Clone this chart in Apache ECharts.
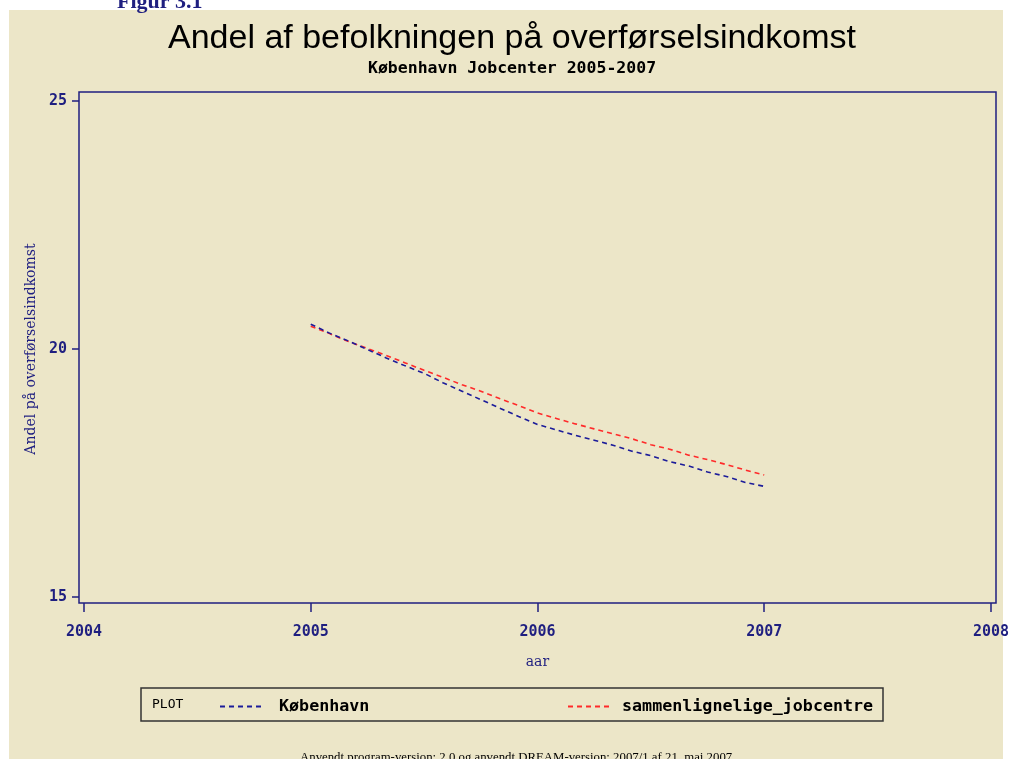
<!DOCTYPE html>
<html>
<head>
<meta charset="utf-8">
<script src="https://cdn.jsdelivr.net/npm/echarts@6/dist/echarts.min.js"></script>
<style>html,body{margin:0;padding:0;background:#fff;}#c{width:1012px;height:759px;}</style>
</head>
<body>
<div id="c"></div>
<script>
// Decimal years (monthly observations Jan 2005 - Jan 2007)
const xYears = [2005.000, 2005.083, 2005.167, 2005.250, 2005.333, 2005.417, 2005.500, 2005.583, 2005.667, 2005.750, 2005.833, 2005.917,
                2006.000, 2006.083, 2006.167, 2006.250, 2006.333, 2006.417, 2006.500, 2006.583, 2006.667, 2006.750, 2006.833, 2006.917, 2007.000];
const kobenhavn = [20.50, 20.32, 20.16, 19.99, 19.82, 19.66, 19.51, 19.32, 19.15, 18.98, 18.81, 18.64,
                   18.48, 18.37, 18.26, 18.16, 18.06, 17.94, 17.85, 17.73, 17.64, 17.52, 17.43, 17.31, 17.23];
const sammenlignelige = [20.46, 20.31, 20.15, 20.01, 19.87, 19.72, 19.57, 19.43, 19.28, 19.15, 19.00, 18.86,
                         18.71, 18.60, 18.49, 18.39, 18.29, 18.19, 18.07, 17.98, 17.86, 17.77, 17.67, 17.56, 17.46];
const seriesNames = ['København', 'sammenlignelige_jobcentre'];
const xTicks = [2004, 2005, 2006, 2007, 2008];
const yTicks = [15, 20, 25];

const navy = '#1f1f80';
const chart = echarts.init(document.getElementById('c'), null, {renderer: 'canvas'});
const pair = (xs, ys) => xs.map((x, i) => [x, ys[i]]);
const legendText = {fontFamily: 'DejaVu Sans Mono', fontWeight: 'bold', fontSize: 16.7, color: '#000'};

chart.setOption({
  animation: false,
  backgroundColor: '#ffffff',
  grid: {left: 84, right: 19, top: 101, bottom: 162, containLabel: false},
  xAxis: {
    type: 'value', min: xTicks[0], max: xTicks[xTicks.length - 1], interval: 1, offset: 6,
    name: 'aar', nameLocation: 'middle', nameGap: 52,
    nameTextStyle: {fontFamily: 'DejaVu Serif', fontSize: 14, color: navy},
    axisLine: {show: false},
    axisTick: {show: true, length: 9, lineStyle: {color: navy, width: 1.5}},
    axisLabel: {margin: 22, fontFamily: 'DejaVu Sans Mono', fontWeight: 'bold', fontSize: 15, color: navy,
                formatter: v => String(v)},
    splitLine: {show: false}
  },
  yAxis: {
    type: 'value', min: yTicks[0], max: yTicks[yTicks.length - 1], interval: 5, offset: 5,
    name: 'Andel på overførselsindkomst', nameLocation: 'middle', nameGap: 34, nameRotate: 90,
    nameTextStyle: {fontFamily: 'DejaVu Serif', fontSize: 14, color: navy},
    axisLine: {show: false},
    axisTick: {show: true, length: 7, lineStyle: {color: navy, width: 1.5}},
    axisLabel: {margin: 12, fontFamily: 'DejaVu Sans Mono', fontWeight: 'bold', fontSize: 15, color: navy},
    splitLine: {show: false}
  },
  legend: [
    {data: [seriesNames[0]], left: 214, top: 693, itemWidth: 44, itemHeight: 14,
     itemStyle: {color: 'rgba(0,0,0,0)', borderWidth: 0},
     textStyle: Object.assign({padding: [0, 0, 0, 10]}, legendText)},
    {data: [seriesNames[1]], left: 562, top: 693, itemWidth: 44, itemHeight: 14,
     itemStyle: {color: 'rgba(0,0,0,0)', borderWidth: 0},
     textStyle: Object.assign({padding: [0, 0, 0, 5]}, legendText)}
  ],
  series: [
    {name: seriesNames[0], type: 'line', data: pair(xYears, kobenhavn), symbol: 'none', z: 3,
     lineStyle: {color: '#1c1c9a', width: 1.6, type: [5, 4]}, itemStyle: {color: '#1c1c9a'}},
    {name: seriesNames[1], type: 'line', data: pair(xYears, sammenlignelige), symbol: 'none', z: 2,
     lineStyle: {color: '#ff2a2a', width: 1.6, type: [5, 4]}, itemStyle: {color: '#ff2a2a'}}
  ],
  graphic: [
    {type: 'rect', z: -10, silent: true, shape: {x: 9, y: 10, width: 994, height: 749}, style: {fill: '#ece6c8'}},
    {type: 'text', z: 5, x: 168, y: 22,
     style: {text: 'Andel af befolkningen på overførselsindkomst', fontFamily: 'Liberation Sans', fontSize: 34, fill: '#000'}},
    {type: 'text', z: 5, x: 368, y: 60,
     style: {text: 'København Jobcenter 2005-2007', fontFamily: 'DejaVu Sans Mono', fontWeight: 'bold', fontSize: 16.5, fill: '#000'}},
    {type: 'text', z: 5, x: 117, y: -9,
     style: {text: 'Figur 3.1', fontFamily: 'Liberation Serif', fontWeight: 'bold', fontSize: 22, fill: navy}},
    {type: 'rect', z: 10, silent: true, shape: {x: 79, y: 92, width: 917, height: 511}, style: {fill: 'none', stroke: navy, lineWidth: 1.5}},
    {type: 'rect', z: 10, silent: true, shape: {x: 141, y: 688, width: 742, height: 33}, style: {fill: 'none', stroke: '#333', lineWidth: 1.5}},
    {type: 'text', z: 10, x: 152, y: 698,
     style: {text: 'PLOT', fontFamily: 'DejaVu Sans Mono', fontSize: 13, fill: '#000'}},
    {type: 'text', z: 5, x: 300, y: 751,
     style: {text: 'Anvendt program-version: 2.0 og anvendt DREAM-version: 2007/1 af 21. maj 2007', fontFamily: 'Liberation Serif', fontSize: 12.8, fill: '#000'}}
  ]
});
</script>
</body>
</html>
